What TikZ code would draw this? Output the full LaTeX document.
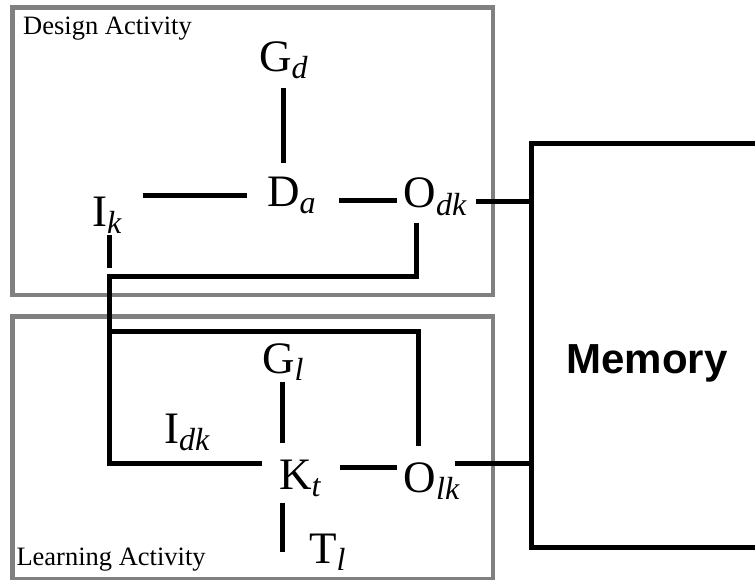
\documentclass[tikz,border=0pt]{standalone}
\usepackage{fontspec}
\setmainfont{Liberation Serif}
\newfontfamily\memfont{Liberation Sans}
\usetikzlibrary{calc}
\newcommand{\actsym}[2]{#1\raisebox{-7pt}{\fontsize{32}{32}\selectfont\itshape #2}}

\begin{document}
\begin{tikzpicture}[
  x=1pt, y=-1pt,
  symbol/.style={anchor=base west, inner sep=0pt, font=\fontsize{45}{50}\selectfont},
  area/.style={anchor=base west, inner sep=0pt, font=\fontsize{26.5}{30}\selectfont},
  activity/.style={draw=gray, line width=4.5pt},
  memorybox/.style={draw, line width=5pt, minimum width=230.6pt,
    minimum height=403pt, inner sep=0pt},
  link/.style={line width=5pt}
]
\useasboundingbox (0,0) rectangle (755,580);

% activity frames
\draw[activity] (12.5,7.5) rectangle (493,295);
\draw[activity] (12.5,316.3) rectangle (493,579.5);
\node[area] (designlbl) at (23,35) {Design Activity};
\node[area] (learnlbl) at (16.3,565) {Learning Activity};

% design activity
\node[symbol] (Gd) at (259,72) {\actsym{G}{d}};
\node[symbol] (Da) at (267,207) {\actsym{D}{a}};
\node[symbol] (Ik) at (92,226) {\actsym{I}{k}};
\node[symbol] (Odk) at (403.5,208) {\actsym{O}{dk}};

% learning activity
\node[symbol] (Gl) at (262,373) {\actsym{G}{l}};
\node[symbol] (Kt) at (279,489) {\actsym{K}{t}};
\node[symbol] (Olk) at (403.5,492) {\actsym{O}{lk}};
\node[symbol] (Tl) at (309,563) {\actsym{T}{l}};
\node[symbol] (Idk) at (164,443) {\actsym{I}{dk}};

% memory
\node[memorybox] (memory) at (647,345.5) {};
\node[anchor=base, inner sep=0pt, font=\memfont\bfseries\fontsize{42}{48}\selectfont]
  (memlbl) at (647,373) {Memory};

\coordinate (bend) at (109,276);
\coordinate (loop) at (109,331);

\draw[link, shorten <=8pt, shorten >=14pt] (Gd.south) -- (Gd.south |- Da.north);
\draw[link, shorten <=21pt, shorten >=20pt] (Ik.east |- Da.west) -- (Da.west);
\draw[link, shorten <=23.5pt, shorten >=6.5pt] ($(Da.east)+(0,5)$) -- ($(Da.east -| Odk.west)+(0,5)$);
\draw[link, shorten <=9pt] ($(Odk.east)+(0,5)$) -- ($(Odk.east -| memory.west)+(0,5)$);
\draw[link, shorten <=2pt, shorten >=8pt] (bend |- Ik.south) -- (bend);
\draw[link, shorten <=7pt, shorten >=17pt] ([xshift=13pt]Odk.south west) |- (bend)
  |- ([yshift=-4pt]Kt.north west);
\draw[link, shorten <=16pt] ([xshift=14.5pt]Olk.north west) |- (loop);
\draw[link, shorten <=2pt, shorten >=16pt] (Gl.south) -- (Gl.south |- Kt.north);
\draw[link, shorten <=19.6pt, shorten >=6.5pt] ($(Kt.east)+(0,-10)$) -- ($(Kt.east -| Olk.west)+(0,-10)$);
\draw[link] ($(Olk.north east)+(-4,1.5)$) -- ($(Olk.north east -| memory.west)+(0,1.5)$);
\draw[link, shorten <=6pt, shorten >=11pt] (Gl.south |- Kt.south) -- (Gl.south |- Tl.base);
\end{tikzpicture}
\end{document}
